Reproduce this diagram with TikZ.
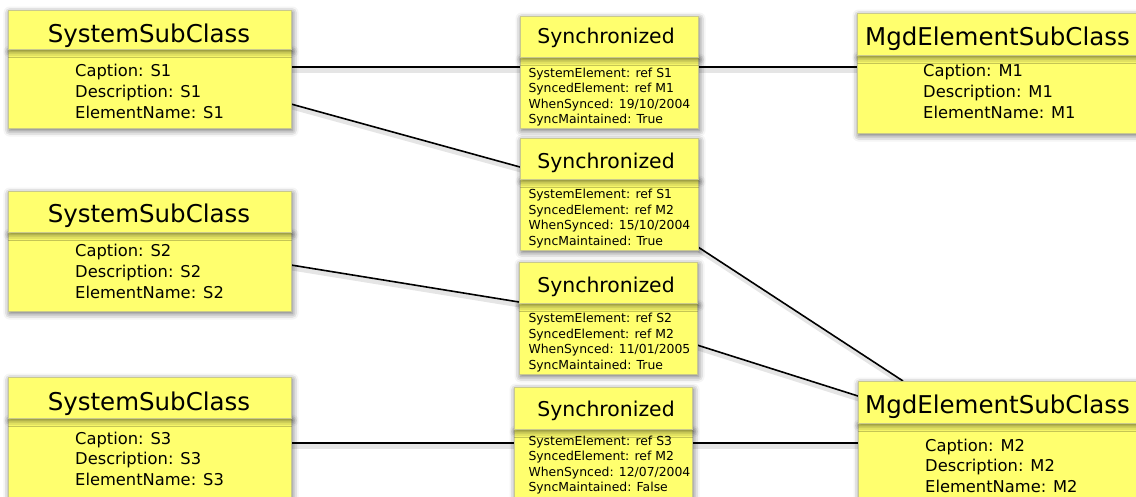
\documentclass[tikz,border=0pt]{standalone}
\usepackage{fontspec}
\setmainfont{DejaVu Sans}
\usetikzlibrary{shadows.blur}
\definecolor{noteyellow}{HTML}{FFFF6E}
\definecolor{noteedge}{HTML}{C9C98C}
\pgfdeclarelayer{links}
\pgfsetlayers{links,main}

% The attribute blocks are anchored at the baseline of their last line.
\tikzset{
  notebox/.style={draw=noteedge, line width=0.6pt, fill=noteyellow,
    inner sep=0pt, outer sep=0pt, anchor=north west,
    blur shadow={shadow xshift=1.5pt, shadow yshift=-2.5pt,
      shadow blur radius=6pt, shadow opacity=60}},
  classtitle/.style={font=\fontsize{24.5}{28}\selectfont, anchor=base, inner sep=0pt},
  classattr/.style={font=\fontsize{16.3}{20.7}\selectfont, align=left,
    anchor=base west, inner sep=0pt},
  linktitle/.style={font=\fontsize{20.4}{24}\selectfont, anchor=base, inner sep=0pt},
  linkattr/.style={font=\fontsize{12.4}{15.5}\selectfont, align=left,
    anchor=base west, inner sep=0pt},
  assoc/.style={line width=1.6pt, black,
    preaction={draw=black, opacity=0.10, line width=5pt,
      transform canvas={xshift=1pt, yshift=-3pt}}},
}

\begin{document}
\begin{tikzpicture}[x=1pt, y=-1pt]
\useasboundingbox (0,0) rectangle (1136,496);
\clip (0,0) rectangle (1136,496);

% ---------- SystemSubClass instances ----------
\node[notebox, minimum width=283, minimum height=79] (s1b) at (8,49) {};
\node[notebox, minimum width=283, minimum height=39] (s1h) at (8,10) {};
\node[classtitle] (s1t) at (149,42) {SystemSubClass};
\node[classattr] (s1a) at (75,118) {Caption: S1\\Description: S1\\ElementName: S1};

\node[notebox, minimum width=283, minimum height=79] (s2b) at (8,232) {};
\node[notebox, minimum width=283, minimum height=41] (s2h) at (8,191) {};
\node[classtitle] (s2t) at (149,222.5) {SystemSubClass};
\node[classattr] (s2a) at (75,298) {Caption: S2\\Description: S2\\ElementName: S2};

\node[notebox, minimum width=283, minimum height=90] (s3b) at (8,418) {};
\node[notebox, minimum width=283, minimum height=41] (s3h) at (8,377) {};
\node[classtitle] (s3t) at (149,410) {SystemSubClass};
\node[classattr] (s3a) at (75,485.5) {Caption: S3\\Description: S3\\ElementName: S3};

% ---------- Synchronized associations ----------
\node[notebox, minimum width=178, minimum height=71] (y1b) at (520,57) {};
\node[notebox, minimum width=178, minimum height=41] (y1h) at (520,16) {};
\node[linktitle] (y1t) at (606,43.3) {Synchronized};
\node[linkattr] (y1a) at (528.3,123.7) {SystemElement: ref S1\\SyncedElement: ref M1\\WhenSynced: 19/10/2004\\SyncMaintained: True};

\node[notebox, minimum width=178, minimum height=71] (y2b) at (520,179) {};
\node[notebox, minimum width=178, minimum height=41] (y2h) at (520,138) {};
\node[linktitle] (y2t) at (606,168.3) {Synchronized};
\node[linkattr] (y2a) at (528.3,245) {SystemElement: ref S1\\SyncedElement: ref M2\\WhenSynced: 15/10/2004\\SyncMaintained: True};

\node[notebox, minimum width=178, minimum height=71] (y3b) at (519,303) {};
\node[notebox, minimum width=178, minimum height=41] (y3h) at (519,262) {};
\node[linktitle] (y3t) at (606,292.7) {Synchronized};
\node[linkattr] (y3a) at (528.3,369.3) {SystemElement: ref S2\\SyncedElement: ref M2\\WhenSynced: 11/01/2005\\SyncMaintained: True};

\node[notebox, minimum width=178, minimum height=80] (y4b) at (514,429) {};
\node[notebox, minimum width=178, minimum height=42] (y4h) at (514,387) {};
\node[linktitle] (y4t) at (606,416.7) {Synchronized};
\node[linkattr] (y4a) at (528.3,491.5) {SystemElement: ref S3\\SyncedElement: ref M2\\WhenSynced: 12/07/2004\\SyncMaintained: False};

% ---------- MgdElementSubClass instances ----------
\node[notebox, minimum width=283, minimum height=78] (m1b) at (857,55) {};
\node[notebox, minimum width=283, minimum height=42] (m1h) at (857,13) {};
\node[classtitle] (m1t) at (997.5,45) {MgdElementSubClass};
\node[classattr] (m1a) at (923,118) {Caption: M1\\Description: M1\\ElementName: M1};

\node[notebox, minimum width=283, minimum height=85] (m2b) at (858,423) {};
\node[notebox, minimum width=283, minimum height=42] (m2h) at (858,381) {};
\node[classtitle] (m2t) at (997.5,413.3) {MgdElementSubClass};
\node[classattr] (m2a) at (925,492.5) {Caption: M2\\Description: M2\\ElementName: M2};

% ---------- links ----------
\begin{pgfonlayer}{links}
\draw[assoc] ([yshift=-18pt]s1b.north east) -- ([yshift=-10pt]y1b.north west);
\draw[assoc] ([yshift=-10pt]y1b.north east) -- ([yshift=-12pt]m1b.north west);
\draw[assoc] ([yshift=-55pt]s1b.north east) -- ([yshift=12pt]y2h.south west);
\draw[assoc] ([yshift=-33pt]s2b.north east) -- ([yshift=1pt]y3h.south west);
\draw[assoc] ([yshift=3pt]y2b.south east) -- ([xshift=45pt]m2h.north west);
\draw[assoc] ([yshift=-42pt]y3b.north east) -- ([yshift=-15pt]m2h.north west);
\draw[assoc] ([yshift=-25pt]s3b.north east) -- ([yshift=-14pt]y4b.north west);
\draw[assoc] ([yshift=-14pt]y4b.north east) -- ([yshift=-20pt]m2b.north west);
\end{pgfonlayer}
\end{tikzpicture}
\end{document}
